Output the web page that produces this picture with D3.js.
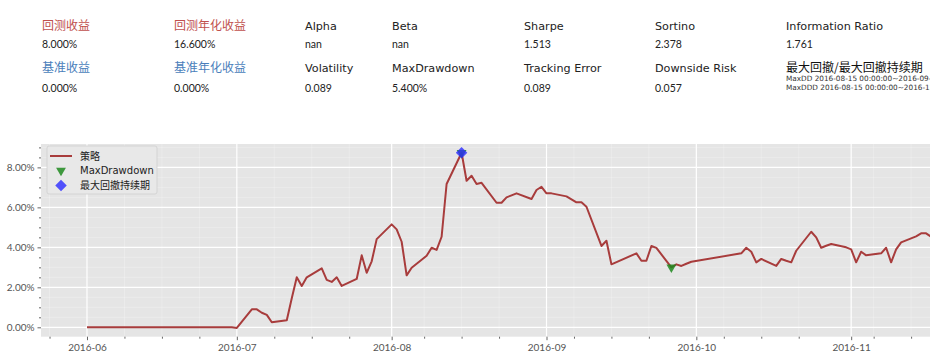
<!DOCTYPE html>
<html>
<head>
<meta charset="utf-8">
<script src="https://cdn.jsdelivr.net/npm/d3@7"></script>
<style>
  html, body { margin: 0; padding: 0; background: #fff; overflow: hidden; }
  svg { display: block; font-family: "DejaVu Sans", "Noto Sans CJK SC", sans-serif; }
  .num { font-family: Lato, "DejaVu Sans", sans-serif; }
  .cjk { font-family: "Noto Sans CJK SC", sans-serif; }
</style>
</head>
<body>
<svg id="chart" width="930" height="360"></svg>
<script>
// header metrics, two rows of label / value pairs
const row1Labels = ['回测收益', '回测年化收益', 'Alpha', 'Beta', 'Sharpe', 'Sortino', 'Information Ratio'];
const row1Values = ['8.000%', '16.600%', 'nan', 'nan', '1.513', '2.378', '1.761'];
const row2Labels = ['基准收益', '基准年化收益', 'Volatility', 'MaxDrawdown', 'Tracking Error', 'Downside Risk'];
const row2Values = ['0.000%', '0.000%', '0.089', '5.400%', '0.089', '0.057'];
const ddTitle = '最大回撤/最大回撤持续期';
const ddLines = ['MaxDD  2016-08-15 00:00:00~2016-09-26 00:00:00', 'MaxDDD 2016-08-15 00:00:00~2016-12-02 00:00:00'];
const legendLabels = ['策略', 'MaxDrawdown', '最大回撤持续期'];

// strategy cumulative return (%), by trading day
const dates = [
  '2016-06-01', '2016-06-30', '2016-07-01', '2016-07-04', '2016-07-05', '2016-07-06', '2016-07-07', '2016-07-08',
  '2016-07-11', '2016-07-12', '2016-07-13', '2016-07-14', '2016-07-15', '2016-07-18', '2016-07-19', '2016-07-20',
  '2016-07-21', '2016-07-22', '2016-07-25', '2016-07-26', '2016-07-27', '2016-07-28', '2016-07-29', '2016-08-01',
  '2016-08-02', '2016-08-03', '2016-08-04', '2016-08-05', '2016-08-08', '2016-08-09', '2016-08-10', '2016-08-11',
  '2016-08-12', '2016-08-15', '2016-08-16', '2016-08-17', '2016-08-18', '2016-08-19', '2016-08-22', '2016-08-23',
  '2016-08-24', '2016-08-25', '2016-08-26', '2016-08-29', '2016-08-30', '2016-08-31', '2016-09-01', '2016-09-02',
  '2016-09-05', '2016-09-06', '2016-09-07', '2016-09-08', '2016-09-09', '2016-09-12', '2016-09-13', '2016-09-14',
  '2016-09-19', '2016-09-20', '2016-09-21', '2016-09-22', '2016-09-23', '2016-09-26', '2016-09-27', '2016-09-28',
  '2016-09-29', '2016-09-30', '2016-10-10', '2016-10-11', '2016-10-12', '2016-10-13', '2016-10-14', '2016-10-17',
  '2016-10-18', '2016-10-19', '2016-10-20', '2016-10-21', '2016-10-24', '2016-10-25', '2016-10-26', '2016-10-27',
  '2016-10-28', '2016-10-31', '2016-11-01', '2016-11-02', '2016-11-03', '2016-11-04', '2016-11-07', '2016-11-08',
  '2016-11-09', '2016-11-10', '2016-11-11', '2016-11-14', '2016-11-15', '2016-11-16', '2016-11-17', '2016-11-18'
];
const returns = [
  0.00, 0.00, -0.03, 0.90, 0.90, 0.73, 0.62, 0.25,
  0.35, 1.45, 2.50, 2.07, 2.50, 2.95, 2.37, 2.27,
  2.50, 2.07, 2.42, 3.60, 2.73, 3.30, 4.41, 5.15,
  4.90, 4.28, 2.60, 2.98, 3.58, 3.98, 3.87, 4.53,
  7.17, 8.73, 7.33, 7.58, 7.17, 7.23, 6.23, 6.23,
  6.50, 6.60, 6.70, 6.42, 6.87, 7.03, 6.70, 6.70,
  6.55, 6.40, 6.25, 6.25, 6.03, 4.07, 4.33, 3.15,
  3.70, 3.33, 3.33, 4.07, 3.97, 3.00, 3.15, 3.07,
  3.18, 3.28, 3.70, 3.98, 3.78, 3.25, 3.42, 3.07,
  3.42, 3.33, 3.25, 3.83, 4.78, 4.50, 3.98, 4.08,
  4.17, 4.00, 3.90, 3.25, 3.78, 3.60, 3.70, 3.98,
  3.25, 3.90, 4.25, 4.55, 4.70, 4.70, 4.53, 4.40
];
const ddMarkDates = ['2016-08-15', '2016-09-26'];   // max drawdown start / end
const dddMarkDates = ['2016-08-15'];               // drawdown duration start
const yTicks = [0, 2, 4, 6, 8];
const xDomain = ['2016-05-22T19:00', '2016-12-11T05:00'];
const yDomain = [-0.47, 9.17];

const parse = d3.timeParse('%Y-%m-%d');
const parseT = d3.timeParse('%Y-%m-%dT%H:%M');
const series = dates.map(function (d, i) {
    return { date: parse(d), value: returns[i] };
});
const lookup = function (d) {
    return series.find(function (s) { return +s.date === +parse(d); });
};
const isCjk = function (s) { return /[\u4e00-\u9fff]/.test(s); };

const svg = d3.select('#chart');

// ---- header block
const colX = [42, 174, 305, 392, 524, 655, 786];
const red = '#c0504d';
const blue = '#4a7ebb';
const header = svg.append('g');

function headerRow(labels, values, yLabel, yValue, labelColor) {
    labels.forEach(function (l, i) {
        header.append('text')
            .attr('class', isCjk(l) ? 'cjk' : null)
            .attr('x', colX[i]).attr('y', yLabel)
            .attr('font-size', isCjk(l) ? 12 : 11.2)
            .attr('fill', i < 2 ? labelColor : '#222')
            .text(l);
    });
    values.forEach(function (v, i) {
        header.append('text')
            .attr('class', 'num')
            .attr('x', colX[i]).attr('y', yValue)
            .attr('font-size', 10.5)
            .attr('fill', '#222')
            .text(v);
    });
}
headerRow(row1Labels, row1Values, 30, 48, red);
headerRow(row2Labels, row2Values, 72, 92, blue);

header.append('text')
    .attr('class', 'cjk')
    .attr('x', colX[6]).attr('y', 72)
    .attr('font-size', 12).attr('fill', '#111')
    .text(ddTitle);
ddLines.forEach(function (t, i) {
    header.append('text')
        .attr('x', colX[6]).attr('y', 80.5 + i * 9)
        .attr('font-size', 7.3).attr('fill', '#333')
        .text(t);
});

// ---- chart
const plotLeft = 41, plotTop = 144, plotBottom = 336.7, plotRight = 930;
const x = d3.scaleTime().domain(xDomain.map(parseT)).range([plotLeft, 1052]);
const y = d3.scaleLinear().domain(yDomain).range([plotBottom, plotTop]);

svg.append('defs').append('clipPath').attr('id', 'plotclip')
    .append('rect').attr('x', plotLeft).attr('y', plotTop)
    .attr('width', plotRight - plotLeft).attr('height', plotBottom - plotTop);

svg.append('rect')
    .attr('x', plotLeft).attr('y', plotTop)
    .attr('width', plotRight - plotLeft).attr('height', plotBottom - plotTop)
    .attr('fill', '#e5e5e5');

// minor ticks: quarter of the first month step, skipping those next to a month start
const majorX = x.ticks(d3.timeMonth.every(1));
const step = (majorX[1] - majorX[0]) / 4;
const minorX = [];
for (let t = +majorX[0] - step * 8; t < +x.domain()[1]; t += step) {
    const near = majorX.some(function (m) { return Math.abs(t - m) < 3.6 * 864e5; });
    if (!near && t > +x.domain()[0] && x(t) < plotRight) minorX.push(new Date(t));
}
const visibleMajorX = majorX.filter(function (d) { return x(d) < plotRight - 20; });
const minorY = d3.range(-0.5, 9.01, 0.5).filter(function (v) {
    return v > yDomain[0] && v < yDomain[1] && yTicks.indexOf(v) < 0;
});

const grid = svg.append('g').attr('clip-path', 'url(#plotclip)');
grid.selectAll('.mgx').data(minorX).enter().append('line')
    .attr('x1', function (d) { return x(d); }).attr('x2', function (d) { return x(d); })
    .attr('y1', plotTop).attr('y2', plotBottom)
    .attr('stroke', '#fff').attr('stroke-opacity', 0.3).attr('stroke-width', 0.8);
grid.selectAll('.mgy').data(minorY).enter().append('line')
    .attr('x1', plotLeft).attr('x2', plotRight)
    .attr('y1', function (d) { return y(d); }).attr('y2', function (d) { return y(d); })
    .attr('stroke', '#fff').attr('stroke-opacity', 0.3).attr('stroke-width', 0.8);
grid.selectAll('.gx').data(majorX).enter().append('line')
    .attr('x1', function (d) { return x(d); }).attr('x2', function (d) { return x(d); })
    .attr('y1', plotTop).attr('y2', plotBottom)
    .attr('stroke', '#fff').attr('stroke-width', 1.2);
grid.selectAll('.gy').data(yTicks).enter().append('line')
    .attr('x1', plotLeft).attr('x2', plotRight)
    .attr('y1', function (d) { return y(d); }).attr('y2', function (d) { return y(d); })
    .attr('stroke', '#fff').attr('stroke-width', 1.2);

// axes
svg.append('g')
    .attr('transform', 'translate(0,' + plotBottom + ')')
    .call(d3.axisBottom(x).tickValues(visibleMajorX).tickFormat(d3.timeFormat('%Y-%m')).tickSize(3.5).tickPadding(4));
svg.append('g')
    .attr('transform', 'translate(0,' + plotBottom + ')')
    .call(d3.axisBottom(x).tickValues(minorX).tickFormat('').tickSize(2));
svg.append('g')
    .attr('transform', 'translate(' + plotLeft + ',0)')
    .call(d3.axisLeft(y).tickValues(yTicks).tickFormat(function (d) { return d3.format('.2f')(d) + '%'; }).tickSize(3.5).tickPadding(3));
svg.append('g')
    .attr('transform', 'translate(' + plotLeft + ',0)')
    .call(d3.axisLeft(y).tickValues(minorY).tickFormat('').tickSize(2));
svg.selectAll('.domain').remove();
svg.selectAll('.tick line').attr('stroke', '#666');
svg.selectAll('.tick text').attr('fill', '#555').attr('font-size', 10).attr('font-family', 'Lato, sans-serif');

// strategy line
const line = d3.line()
    .x(function (d) { return x(d.date); })
    .y(function (d) { return y(d.value); });
const plot = svg.append('g').attr('clip-path', 'url(#plotclip)');
plot.append('path')
    .datum(series)
    .attr('d', line)
    .attr('fill', 'none')
    .attr('stroke', '#a83c3c')
    .attr('stroke-width', 2)
    .attr('stroke-linejoin', 'round');

const tri = d3.symbol().type(d3.symbolTriangle).size(42);
const dia = d3.symbol().type(d3.symbolSquare).size(66);
plot.selectAll('.dd').data(ddMarkDates.map(lookup)).enter().append('path')
    .attr('d', tri)
    .attr('transform', function (d) { return 'translate(' + x(d.date) + ',' + y(d.value) + ') rotate(180)'; })
    .attr('fill', '#1f8a1f').attr('fill-opacity', 0.85);
plot.selectAll('.ddd').data(dddMarkDates.map(lookup)).enter().append('path')
    .attr('d', dia)
    .attr('transform', function (d) { return 'translate(' + x(d.date) + ',' + y(d.value) + ') rotate(45)'; })
    .attr('fill', '#2a2aff').attr('fill-opacity', 0.8);

// legend
const lg = svg.append('g').attr('transform', 'translate(47,146)');
lg.append('rect').attr('width', 110).attr('height', 48).attr('rx', 2)
    .attr('fill', '#e8e8e8').attr('stroke', '#cfcfcf').attr('stroke-width', 0.8);
lg.append('line').attr('x1', 3).attr('x2', 25).attr('y1', 10).attr('y2', 10)
    .attr('stroke', '#a83c3c').attr('stroke-width', 2);
lg.append('path').attr('d', tri).attr('transform', 'translate(14,24.5) rotate(180)')
    .attr('fill', '#1f8a1f').attr('fill-opacity', 0.85);
lg.append('path').attr('d', dia).attr('transform', 'translate(14,39.5) rotate(45)')
    .attr('fill', '#2a2aff').attr('fill-opacity', 0.8);
legendLabels.forEach(function (t, i) {
    lg.append('text').attr('class', isCjk(t) ? 'cjk' : null)
        .attr('x', 33).attr('y', 13.5 + i * 14.7)
        .attr('font-size', 10).attr('fill', '#222').text(t);
});
</script>
</body>
</html>
